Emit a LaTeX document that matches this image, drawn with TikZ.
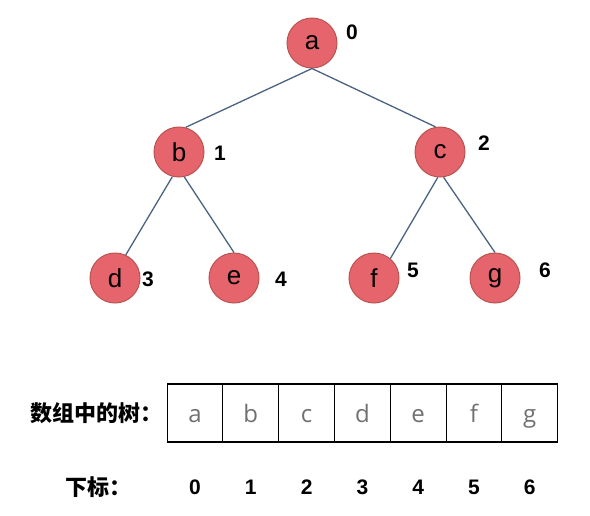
\documentclass[tikz,border=0pt]{standalone}
\usepackage{fontspec}
\usepackage{tikz}
\setmainfont{Liberation Sans}
\newfontfamily\cjk{Noto Sans CJK SC}
\newfontfamily\cellfont{Open Sans}
\definecolor{nodefill}{HTML}{E6646B}
\definecolor{noderim}{HTML}{B85450}
\definecolor{branchcol}{HTML}{4A6380}
\definecolor{cellgray}{HTML}{707070}

\begin{document}
\begin{tikzpicture}[x=1pt, y=-1pt,
  vertex/.style={circle, draw=noderim, fill=nodefill, line width=1pt,
                 minimum size=50pt, inner sep=0pt,
                 font=\fontsize{26}{26}\selectfont},
  index/.style={font=\fontsize{21}{21}\selectfont\bfseries},
  branch/.style={draw=branchcol, line width=1.3pt},
  cell/.style={draw, line width=1.1pt, minimum width=55.8pt,
               minimum height=58pt, inner sep=0pt, outer sep=0pt,
               text height=18pt, text depth=0pt,
               text=cellgray, font=\cellfont\fontsize{24}{24}\selectfont},
  caption/.style={anchor=west, font=\cjk\bfseries\fontsize{22}{22}\selectfont},
]
\useasboundingbox (0,0) rectangle (590,515);

% Tree
\node[vertex] (a) at (312,43) {a};
\node[vertex] (b) at (179,152) {b};
\node[vertex] (c) at (440,152) {c};
\node[vertex] (d) at (115,278) {d};
\node[vertex] (e) at (234,278) {e};
\node[vertex] (f) at (374,278) {f};
\node[vertex] (g) at (495,278) {g};

\draw[branch] (a.south) -- (b.75);
\draw[branch] (a.south) -- (c.100);
\draw[branch] (b.-105) -- (d.65);
\draw[branch] (b.-78) -- (e.north);
\draw[branch] (c.-95) -- (f.50);
\draw[branch] (c.-82) -- (g.north);

% Index next to every vertex
\node[index] (na) at (352,32) {0};
\node[index] (nb) at (220,153) {1};
\node[index] (nc) at (484,143) {2};
\node[index] (nd) at (148,279) {3};
\node[index] (ne) at (281,279) {4};
\node[index] (nf) at (413,270) {5};
\node[index] (ng) at (545,270) {6};

% Array
\node[caption] (arr) at (27,413) {数组中的树：};
\foreach \k/\v in {0/a,1/b,2/c,3/d,4/e,5/f,6/g}
  \node[cell] (c\k) at ({195+55.8*\k},413) {\v};

% Positions below the array
\node[caption] (pos) at (62,487) {下标：};
\foreach \k in {0,...,6}
  \node[index] (i\k) at (c\k |- 0,487) {\k};

\end{tikzpicture}
\end{document}
